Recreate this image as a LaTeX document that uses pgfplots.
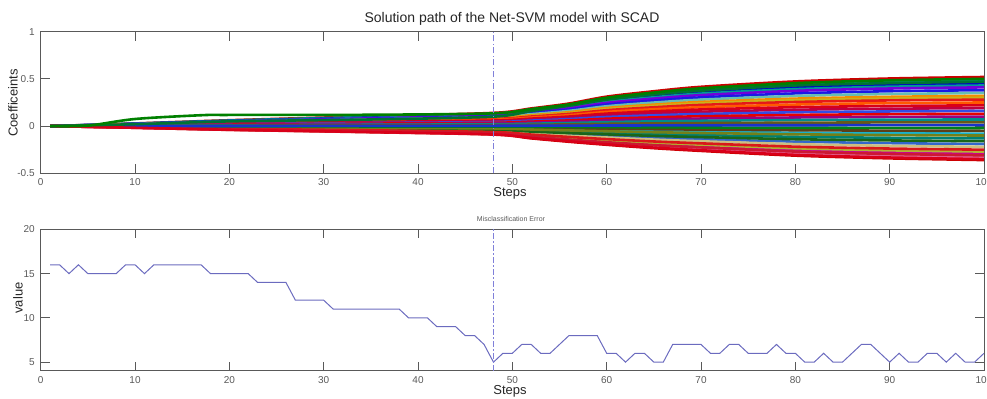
\documentclass[border=0pt]{standalone}
\usepackage{pgfplots}
\pgfplotsset{compat=1.18}
\usepackage{fontspec}
\setmainfont{Liberation Sans}
\definecolor{axgray}{rgb}{0.35,0.35,0.35}
\definecolor{errc}{rgb}{0.42,0.42,0.75}
\definecolor{vlc}{rgb}{0.50,0.50,0.85}
\definecolor{c1}{rgb}{0.80,0.00,0.00}
\definecolor{c2}{rgb}{0.00,0.50,0.00}
\definecolor{c3}{rgb}{0.00,0.60,0.50}
\definecolor{c4}{rgb}{0.00,0.45,0.20}
\definecolor{c5}{rgb}{0.00,0.00,0.80}
\definecolor{c6}{rgb}{0.00,0.60,0.60}
\definecolor{c7}{rgb}{0.45,0.00,0.85}
\definecolor{c8}{rgb}{0.10,0.10,0.90}
\definecolor{c9}{rgb}{0.40,0.75,0.70}
\definecolor{c10}{rgb}{0.95,0.55,0.00}
\definecolor{c11}{rgb}{0.80,0.70,0.10}
\definecolor{c12}{rgb}{0.90,0.10,0.10}
\definecolor{c13}{rgb}{1.00,0.35,0.00}
\definecolor{c14}{rgb}{0.85,0.00,0.10}
\definecolor{c15}{rgb}{0.75,0.00,0.25}
\definecolor{c16}{rgb}{0.20,0.30,0.90}
\definecolor{c17}{rgb}{0.90,0.00,0.00}
\definecolor{c18}{rgb}{0.60,0.00,0.50}
\definecolor{c19}{rgb}{0.00,0.55,0.55}
\definecolor{c20}{rgb}{0.40,0.35,0.10}
\definecolor{c21}{rgb}{0.10,0.20,0.80}
\definecolor{c22}{rgb}{0.00,0.50,0.10}
\definecolor{c23}{rgb}{0.35,0.25,0.10}
\definecolor{c24}{rgb}{0.10,0.70,0.80}
\definecolor{c25}{rgb}{0.45,0.50,0.10}
\definecolor{c26}{rgb}{0.00,0.50,0.45}
\definecolor{c27}{rgb}{0.10,0.40,0.10}
\definecolor{c28}{rgb}{0.20,0.40,0.80}
\definecolor{c29}{rgb}{0.80,0.75,0.50}
\definecolor{c30}{rgb}{0.85,0.10,0.10}
\definecolor{c31}{rgb}{0.70,0.70,0.20}
\definecolor{c32}{rgb}{0.80,0.00,0.60}
\definecolor{c33}{rgb}{0.80,0.10,0.20}
\definecolor{c34}{rgb}{0.90,0.40,0.60}
\definecolor{c35}{rgb}{0.85,0.00,0.10}
\definecolor{c36}{rgb}{0.80,0.00,0.00}
\pgfplotsset{
  matstyle/.style={
    scale only axis, width=471.65pt, height=70.8pt,
    xmin=0, xmax=100, xtick={0,10,...,100},
    tick align=inside, major tick length=4.5pt,
    axis line style={axgray, line width=0.5pt},
    tick style={axgray, line width=0.5pt},
    ticklabel style={font=\fontsize{5}{6}\selectfont, text=axgray},
    /pgf/number format/assume math mode=true,
    xticklabel style={yshift=1pt},
    yticklabel style={xshift=0.5pt},
  },
  vline/.style={vlc, line width=0.45pt, dash pattern=on 3pt off 1.2pt on 0.6pt off 1.2pt, sharp plot, no marks}
}
\begin{document}
\begin{tikzpicture}
\useasboundingbox (0,0) rectangle (493.5pt,199.5pt);
\begin{axis}[matstyle, at={(20.35pt,112.85pt)}, anchor=south west,
  ymin=-0.5, ymax=1, ytick={-0.5,0,0.5,1},
  yticklabels={-0.5,0,0.5,1},
  every axis plot/.append style={line width=1.3pt, smooth, no marks}]
\addplot[c1] coordinates {(1,0) (10,.028) (20,.062) (35,.104) (48,.140) (52,.187) (56,.239) (60,.312) (65,.369) (70,.416) (80,.473) (90,.504) (100,.52)};
\addplot[c24] coordinates {(1,0) (10,-.004) (20,-.009) (35,-.014) (48,-.020) (52,-.029) (56,-.037) (60,-.044) (65,-.052) (70,-.058) (80,-.070) (90,-.076) (100,-.08)};
\addplot[c3] coordinates {(1,0) (10,.026) (20,.059) (35,.098) (48,.132) (52,.176) (56,.225) (60,.294) (65,.348) (70,.392) (80,.446) (90,.475) (100,.49)};
\addplot[c36] coordinates {(1,0) (10,-.018) (20,-.040) (35,-.065) (48,-.090) (52,-.130) (56,-.166) (60,-.198) (65,-.234) (70,-.263) (80,-.313) (90,-.342) (100,-.36)};
\addplot[c5] coordinates {(1,0) (10,.024) (20,.054) (35,.090) (48,.122) (52,.162) (56,.207) (60,.270) (65,.320) (70,.360) (80,.410) (90,.437) (100,.45)};
\addplot[c28] coordinates {(1,0) (10,-.010) (20,-.021) (35,-.034) (48,-.048) (52,-.068) (56,-.087) (60,-.105) (65,-.124) (70,-.139) (80,-.165) (90,-.181) (100,-.19)};
\addplot[c6] coordinates {(1,0) (10,.023) (20,.052) (35,.086) (48,.116) (52,.155) (56,.198) (60,.258) (65,.305) (70,.344) (80,.391) (90,.417) (100,.43)};
\addplot[c34] coordinates {(1,0) (10,-.017) (20,-.036) (35,-.059) (48,-.083) (52,-.119) (56,-.152) (60,-.182) (65,-.215) (70,-.241) (80,-.287) (90,-.314) (100,-.33)};
\addplot[c7] coordinates {(1,0) (10,.022) (20,.049) (35,.082) (48,.111) (52,.148) (56,.189) (60,.246) (65,.291) (70,.328) (80,.373) (90,.398) (100,.41)};
\addplot[c26] coordinates {(1,0) (10,-.007) (20,-.014) (35,-.023) (48,-.033) (52,-.047) (56,-.060) (60,-.072) (65,-.085) (70,-.095) (80,-.113) (90,-.124) (100,-.13)};
\addplot[c8] coordinates {(1,0) (10,.021) (20,.046) (35,.076) (48,.103) (52,.137) (56,.175) (60,.228) (65,.270) (70,.304) (80,.346) (90,.369) (100,.38)};
\addplot[c32] coordinates {(1,0) (10,-.015) (20,-.032) (35,-.052) (48,-.073) (52,-.104) (56,-.133) (60,-.160) (65,-.189) (70,-.212) (80,-.252) (90,-.276) (100,-.29)};
\addplot[c9] coordinates {(1,0) (10,.019) (20,.042) (35,.070) (48,.095) (52,.126) (56,.161) (60,.210) (65,.249) (70,.280) (80,.319) (90,.340) (100,.35)};
\addplot[c23] coordinates {(1,0) (10,-.003) (20,-.006) (35,-.009) (48,-.013) (52,-.018) (56,-.023) (60,-.028) (65,-.033) (70,-.037) (80,-.044) (90,-.048) (100,-.05)};
\addplot[c10] coordinates {(1,0) (10,.017) (20,.038) (35,.064) (48,.086) (52,.115) (56,.147) (60,.192) (65,.227) (70,.256) (80,.291) (90,.310) (100,.32)};
\addplot[c29] coordinates {(1,0) (10,-.011) (20,-.024) (35,-.040) (48,-.055) (52,-.079) (56,-.101) (60,-.121) (65,-.143) (70,-.161) (80,-.191) (90,-.209) (100,-.22)};
\addplot[c11] coordinates {(1,0) (10,.016) (20,.036) (35,.060) (48,.081) (52,.108) (56,.138) (60,.180) (65,.213) (70,.240) (80,.273) (90,.291) (100,.30)};
\addplot[c27] coordinates {(1,0) (10,-.008) (20,-.018) (35,-.029) (48,-.040) (52,-.058) (56,-.074) (60,-.088) (65,-.104) (70,-.117) (80,-.139) (90,-.152) (100,-.16)};
\addplot[c12] coordinates {(1,0) (10,.015) (20,.034) (35,.056) (48,.076) (52,.101) (56,.129) (60,.168) (65,.199) (70,.224) (80,.255) (90,.272) (100,.28)};
\addplot[c31] coordinates {(1,0) (10,-.014) (20,-.030) (35,-.049) (48,-.068) (52,-.097) (56,-.124) (60,-.149) (65,-.176) (70,-.197) (80,-.235) (90,-.257) (100,-.27)};
\addplot[c13] coordinates {(1,0) (10,.014) (20,.030) (35,.050) (48,.068) (52,.090) (56,.115) (60,.150) (65,.178) (70,.200) (80,.228) (90,.243) (100,.25)};
\addplot[c25] coordinates {(1,0) (10,-.005) (20,-.011) (35,-.018) (48,-.025) (52,-.036) (56,-.046) (60,-.055) (65,-.065) (70,-.073) (80,-.087) (90,-.095) (100,-.10)};
\addplot[c14] coordinates {(1,0) (10,.012) (20,.026) (35,.044) (48,.059) (52,.079) (56,.101) (60,.132) (65,.156) (70,.176) (80,.200) (90,.213) (100,.22)};
\addplot[c30] coordinates {(1,0) (10,-.013) (20,-.028) (35,-.045) (48,-.063) (52,-.090) (56,-.115) (60,-.138) (65,-.163) (70,-.183) (80,-.218) (90,-.238) (100,-.25)};
\addplot[c15] coordinates {(1,0) (10,.010) (20,.023) (35,.038) (48,.051) (52,.068) (56,.087) (60,.114) (65,.135) (70,.152) (80,.173) (90,.184) (100,.19)};
\addplot[c22] coordinates {(1,0) (10,-.001) (20,-.002) (35,-.004) (48,-.005) (52,-.007) (56,-.009) (60,-.011) (65,-.013) (70,-.015) (80,-.017) (90,-.019) (100,-.02)};
\addplot[c16] coordinates {(1,0) (10,.009) (20,.019) (35,.032) (48,.043) (52,.058) (56,.074) (60,.096) (65,.114) (70,.128) (80,.146) (90,.155) (100,.16)};
\addplot[c33] coordinates {(1,0) (10,-.016) (20,-.034) (35,-.056) (48,-.078) (52,-.112) (56,-.143) (60,-.171) (65,-.202) (70,-.226) (80,-.270) (90,-.295) (100,-.31)};
\addplot[c17] coordinates {(1,0) (10,.007) (20,.016) (35,.026) (48,.035) (52,.047) (56,.060) (60,.078) (65,.092) (70,.104) (80,.118) (90,.126) (100,.13)};
\addplot[c18] coordinates {(1,0) (10,.005) (20,.012) (35,.020) (48,.027) (52,.036) (56,.046) (60,.060) (65,.071) (70,.080) (80,.091) (90,.097) (100,.10)};
\addplot[c19] coordinates {(1,0) (10,.004) (20,.008) (35,.014) (48,.019) (52,.025) (56,.032) (60,.042) (65,.050) (70,.056) (80,.064) (90,.068) (100,.07)};
\addplot[c20] coordinates {(1,0) (10,.002) (20,.005) (35,.008) (48,.011) (52,.014) (56,.018) (60,.024) (65,.028) (70,.032) (80,.036) (90,.039) (100,.04)};
\addplot[c21] coordinates {(1,0) (10,.001) (20,.001) (35,.002) (48,.003) (52,.004) (56,.005) (60,.006) (65,.007) (70,.008) (80,.009) (90,.010) (100,.01)};
\addplot[c35] coordinates {(1,0) (10,-.018) (20,-.039) (35,-.063) (48,-.088) (52,-.126) (56,-.161) (60,-.193) (65,-.228) (70,-.256) (80,-.305) (90,-.333) (100,-.35)};
\addplot[c4] coordinates {(1,0) (10,.020) (20,.050) (35,.070) (48,.100) (52,.160) (56,.215) (60,.280) (65,.335) (70,.375) (80,.430) (90,.455) (100,.47)};
\addplot[c2] coordinates {(1,0) (5,.005) (10,.075) (17,.115) (20,.118) (35,.120) (48,.135) (52,.180) (56,.230) (60,.300) (65,.355) (70,.400) (80,.455) (90,.485) (100,.50)};
\addplot[vline] coordinates {(48,-0.5) (48,1)};
\end{axis}
\begin{axis}[matstyle, at={(20.35pt,14pt)}, anchor=south west,
  ymin=4, ymax=20, ytick={5,10,15,20}]
\addplot[errc, line width=0.5pt, no marks] coordinates {
(1,16) (2,16) (3,15) (4,16) (5,15) (6,15) (7,15) (8,15) (9,16) (10,16)
(11,15) (12,16) (13,16) (14,16) (15,16) (16,16) (17,16) (18,15) (19,15) (20,15)
(21,15) (22,15) (23,14) (24,14) (25,14) (26,14) (27,12) (28,12) (29,12) (30,12)
(31,11) (32,11) (33,11) (34,11) (35,11) (36,11) (37,11) (38,11) (39,10) (40,10)
(41,10) (42,9) (43,9) (44,9) (45,8) (46,8) (47,7) (48,5) (49,6) (50,6)
(51,7) (52,7) (53,6) (54,6) (55,7) (56,8) (57,8) (58,8) (59,8) (60,6)
(61,6) (62,5) (63,6) (64,6) (65,5) (66,5) (67,7) (68,7) (69,7) (70,7)
(71,6) (72,6) (73,7) (74,7) (75,6) (76,6) (77,6) (78,7) (79,6) (80,6)
(81,5) (82,5) (83,6) (84,5) (85,5) (86,6) (87,7) (88,7) (89,6) (90,5)
(91,6) (92,5) (93,5) (94,6) (95,6) (96,5) (97,6) (98,5) (99,5) (100,6)};
\addplot[vline] coordinates {(48,4) (48,20)};
\end{axis}
\node[font=\fontsize{7}{8}\selectfont, text=black!85] at (256pt,190pt) {Solution path of the Net-SVM model with SCAD};
\node[font=\fontsize{6.5}{7}\selectfont, text=black!85] at (255pt,103pt) {Steps};
\node[font=\fontsize{6.5}{7}\selectfont, text=black!85, rotate=90] at (6.5pt,148pt) {Coefficeints};
\node[font=\fontsize{3.5}{4}\selectfont, text=axgray] at (255.5pt,90pt) {Misclassification Error};
\node[font=\fontsize{6.5}{7}\selectfont, text=black!85, rotate=90] at (9pt,50.5pt) {value};
\node[font=\fontsize{6.5}{7}\selectfont, text=black!85] at (255pt,4pt) {Steps};
\end{tikzpicture}
\end{document}
